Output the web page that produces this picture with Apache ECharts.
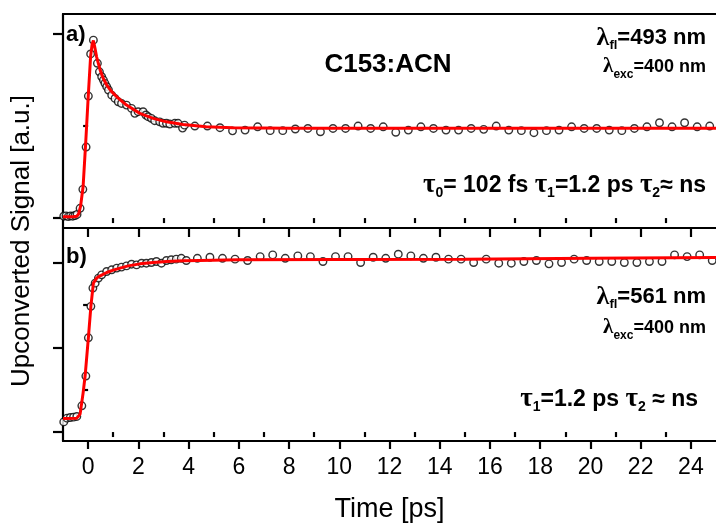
<!DOCTYPE html>
<html>
<head>
<meta charset="utf-8">
<script src="https://cdn.jsdelivr.net/npm/echarts@6/dist/echarts.min.js"></script>
<style>
html,body{margin:0;padding:0;background:#fff;}
#chart{width:716px;height:524px;}
</style>
</head>
<body>
<div id="chart"></div>
<script>
// Time axis (ps)
const timeMajorTicks = [0, 2, 4, 6, 8, 10, 12, 14, 16, 18, 20, 22, 24];
const timeMinorTicks = [1, 3, 5, 7, 9, 11, 13, 15, 17, 19, 21, 23];
const timeTickLabels = ['0', '2', '4', '6', '8', '10', '12', '14', '16', '18', '20', '22', '24'];

// Signal axis ticks for the two panels (no labels are shown)
const aMajorTicks = [0, 1];
const aMinorTicks = [0.5];
const bMajorTicks = [0, 0.5, 1];
const bMinorTicks = [0.25, 0.75];

// a) 493 nm fluorescence: measured points
const aTime = [-0.97, -0.88, -0.79, -0.70, -0.61, -0.52, -0.44, -0.32, -0.21, -0.08, 0.01, 0.10, 0.21,
  0.37, 0.45, 0.54, 0.61, 0.67, 0.74, 0.81, 0.94, 1.07, 1.20, 1.33, 1.53, 1.73, 1.86, 1.99, 2.19, 2.30,
  2.39, 2.52, 2.65, 2.85, 2.98, 3.12, 3.25, 3.45, 3.58, 3.76, 3.84,
  4.25, 4.75, 5.25, 5.75, 6.25, 6.75, 7.25, 7.75, 8.25, 8.75, 9.25, 9.75, 10.25, 10.75, 11.25, 11.75,
  12.25, 12.75, 13.25, 13.75, 14.25, 14.75, 15.25, 15.75, 16.25, 16.75, 17.25, 17.75, 18.25, 18.75,
  19.25, 19.75, 20.25, 20.75, 21.25, 21.75, 22.25, 22.75, 23.25, 23.75, 24.25, 24.75];
const aSignal = [0.010, 0.012, 0.008, 0.012, 0.010, 0.014, 0.020, 0.053, 0.156, 0.386, 0.663, 0.892, 0.967,
  0.841, 0.795, 0.768, 0.750, 0.732, 0.714, 0.696, 0.668, 0.650, 0.632, 0.623, 0.614, 0.596, 0.569, 0.578, 0.578, 0.560,
  0.551, 0.542, 0.529, 0.523, 0.515, 0.515, 0.511, 0.515, 0.515, 0.489, 0.505,
  0.500, 0.500, 0.491, 0.474, 0.478, 0.496, 0.475, 0.475, 0.484, 0.487, 0.469, 0.487, 0.487, 0.500, 0.487, 0.496,
  0.466, 0.478, 0.496, 0.487, 0.478, 0.478, 0.487, 0.482, 0.500, 0.478, 0.475, 0.464, 0.475, 0.478,
  0.496, 0.487, 0.487, 0.478, 0.475, 0.487, 0.496, 0.518, 0.496, 0.518, 0.496, 0.500];

// a) fitted curve
const aFitTime = [-1.0, -0.6, -0.45, -0.38, -0.30, -0.20, -0.10, 0.0, 0.10, 0.16, 0.21, 0.27, 0.34, 0.48, 0.60,
  0.74, 0.92, 1.14, 1.53, 2.06, 2.59, 3.12, 3.78, 4.70, 5.76, 8.0, 12.0, 18.0, 25.0];
const aFitSignal = [0.007, 0.007, 0.010, 0.022, 0.065, 0.170, 0.400, 0.650, 0.880, 0.945, 0.965, 0.925, 0.875, 0.804, 0.760,
  0.723, 0.690, 0.659, 0.614, 0.569, 0.542, 0.523, 0.509, 0.496, 0.491, 0.488, 0.4875, 0.4875, 0.4875];

// b) 561 nm fluorescence: measured points
const bTime = [-0.97, -0.84, -0.71, -0.58, -0.45, -0.25, -0.09, 0.01, 0.11, 0.19, 0.28,
  0.41, 0.54, 0.74, 0.94, 1.14, 1.33, 1.53, 1.73, 1.93, 2.13, 2.32, 2.52, 2.72, 2.92, 3.12, 3.31, 3.51, 3.71, 3.91,
  4.35, 4.85, 5.35, 5.85, 6.35, 6.85, 7.35, 7.85, 8.35, 8.85, 9.35, 9.85, 10.35, 10.85, 11.35, 11.85,
  12.35, 12.85, 13.35, 13.85, 14.35, 14.85, 15.35, 15.85, 16.35, 16.85, 17.35, 17.85, 18.35, 18.85,
  19.35, 19.85, 20.35, 20.85, 21.35, 21.85, 22.35, 22.85, 23.35, 23.85, 24.35, 24.85];
const bSignal = [0.060, 0.082, 0.086, 0.088, 0.092, 0.155, 0.331, 0.557, 0.743, 0.851, 0.880,
  0.910, 0.929, 0.949, 0.959, 0.969, 0.975, 0.982, 0.992, 0.988, 0.998, 0.998, 1.002, 1.008, 0.998, 1.014, 1.018, 1.022, 1.027, 1.014,
  1.027, 1.033, 1.027, 1.022, 1.014, 1.037, 1.047, 1.027, 1.041, 1.037, 1.008, 1.037, 1.037, 1.002, 1.033, 1.027,
  1.051, 1.041, 1.027, 1.033, 1.022, 1.022, 1.002, 1.022, 0.998, 0.998, 1.008, 1.014, 0.994, 1.002,
  1.022, 1.014, 1.008, 1.008, 1.002, 1.002, 1.008, 1.008, 1.047, 1.037, 1.047, 1.014];

// b) fitted curve
const bFitTime = [-1.0, -0.45, -0.32, -0.20, -0.12, 0.01, 0.11, 0.21, 0.34, 0.50, 0.74, 1.0, 1.27, 1.6, 2.06,
  2.6, 3.12, 3.8, 4.44, 6.0, 10.0, 15.0, 20.0, 25.0];
const bFitSignal = [0.080, 0.082, 0.106, 0.230, 0.331, 0.557, 0.743, 0.880, 0.910, 0.925, 0.943, 0.957, 0.969, 0.982, 0.994,
  1.002, 1.008, 1.012, 1.014, 1.018, 1.020, 1.022, 1.027, 1.032];

const zip = (xs, ys) => xs.map((x, i) => [x, ys[i]]);

const FONT = 'Liberation Sans';
const GREEK = 'Liberation Serif';
const AXIS_W = 2.2;

function xAxes(gridIndex, withLabels) {
  const base = {
    type: 'value', gridIndex, min: -1, max: 25, position: 'bottom',
    splitLine: { show: false }
  };
  return [
    Object.assign({}, base, {
      axisLine: { show: true, onZero: false, lineStyle: { color: '#000', width: AXIS_W } },
      axisTick: { show: true, inside: false, length: withLabels ? 8 : 9, customValues: timeMajorTicks,
        lineStyle: { color: '#000', width: AXIS_W } },
      axisLabel: withLabels ? {
        show: true, customValues: timeMajorTicks, margin: 15,
        fontFamily: FONT, fontSize: 23, color: '#000',
        formatter: v => timeTickLabels[timeMajorTicks.indexOf(v)]
      } : { show: false },
      name: withLabels ? 'Time [ps]' : '',
      nameLocation: 'middle', nameGap: 55,
      nameTextStyle: { fontFamily: FONT, fontSize: 27, color: '#000' }
    }),
    Object.assign({}, base, {
      axisLine: { show: false },
      axisTick: { show: true, inside: false, length: 5, customValues: timeMinorTicks,
        lineStyle: { color: '#000', width: AXIS_W } },
      axisLabel: { show: false }
    }),
    Object.assign({}, base, {
      position: 'top',
      axisLine: { show: true, onZero: false, lineStyle: { color: '#000', width: AXIS_W } },
      axisTick: { show: false }, axisLabel: { show: false }
    })
  ];
}

function yAxes(gridIndex, min, max, major, minor) {
  const base = { type: 'value', gridIndex, min, max, position: 'left', splitLine: { show: false } };
  return [
    Object.assign({}, base, {
      axisLine: { show: true, onZero: false, lineStyle: { color: '#000', width: AXIS_W } },
      axisTick: { show: true, inside: false, length: 10, customValues: major,
        lineStyle: { color: '#000', width: AXIS_W } },
      axisLabel: { show: false }
    }),
    Object.assign({}, base, {
      axisLine: { show: false },
      axisTick: { show: true, inside: false, length: 5, customValues: minor,
        lineStyle: { color: '#000', width: AXIS_W } },
      axisLabel: { show: false }
    })
  ];
}

// Rich-text annotation: parts are [kind, text] with kind g (greek), s (subscript), m (main)
function note(x, y, parts, sizes) {
  const rich = {
    g: { fontFamily: GREEK, fontWeight: 'bold', fontSize: sizes.g, lineHeight: sizes.g, verticalAlign: 'top',
         color: '#000', padding: [sizes.gPad || 0, 0, 0, 0] },
    s: { fontFamily: FONT, fontWeight: 'bold', fontSize: sizes.s, lineHeight: sizes.s + sizes.sPad,
         verticalAlign: 'top', padding: [sizes.sPad, 0, 0, 0], color: '#000' },
    m: { fontFamily: FONT, fontWeight: 'bold', fontSize: sizes.m, lineHeight: sizes.m, verticalAlign: 'top',
         padding: [sizes.mPad || 0, 0, 0, 0], color: '#000' }
  };
  return {
    type: 'text', x, y, z: 100,
    style: {
      text: parts.map(p => '{' + p[0] + '|' + p[1] + '}').join(''),
      rich, textAlign: 'right', textVerticalAlign: 'top'
    }
  };
}

const bigLam = { g: 26, s: 13, sPad: 14, m: 22, mPad: 2, gPad: 0 };
const smallLam = { g: 21, s: 12, sPad: 13, m: 18, mPad: 2, gPad: 0 };
const tauSize = { g: 27, s: 14, sPad: 14, m: 23, mPad: 2, gPad: 0 };

const chart = echarts.init(document.getElementById('chart'), null, { renderer: 'canvas' });
chart.setOption({
  animation: false,
  backgroundColor: '#fff',
  grid: [
    { left: 63, top: 14, width: 656, height: 214 },
    { left: 63, top: 228, width: 656, height: 214 }
  ],
  xAxis: [...xAxes(0, false), ...xAxes(1, true)],
  yAxis: [...yAxes(0, -0.054, 1.109, aMajorTicks, aMinorTicks), ...yAxes(1, -0.053, 1.206, bMajorTicks, bMinorTicks)],
  series: [
    { type: 'scatter', xAxisIndex: 0, yAxisIndex: 0, data: zip(aTime, aSignal), symbol: 'circle', symbolSize: 7.5,
      itemStyle: { color: '#fff', borderColor: '#000', borderWidth: 1.4 }, z: 2 },
    { type: 'line', xAxisIndex: 0, yAxisIndex: 0, data: zip(aFitTime, aFitSignal), showSymbol: false,
      lineStyle: { color: '#ff0000', width: 3 }, z: 3 },
    { type: 'scatter', xAxisIndex: 3, yAxisIndex: 2, data: zip(bTime, bSignal), symbol: 'circle', symbolSize: 7.5,
      itemStyle: { color: '#fff', borderColor: '#000', borderWidth: 1.4 }, z: 2 },
    { type: 'line', xAxisIndex: 3, yAxisIndex: 2, data: zip(bFitTime, bFitSignal), showSymbol: false,
      lineStyle: { color: '#ff0000', width: 3 }, z: 3 }
  ],
  graphic: [
    { type: 'text', x: 22, y: 241, rotation: Math.PI / 2, z: 100,
      style: { text: 'Upconverted Signal [a.u.]', fontFamily: FONT, fontSize: 26, fill: '#000',
        textAlign: 'center', textVerticalAlign: 'middle' } },
    { type: 'text', x: 66, y: 24, z: 100,
      style: { text: 'a)', fontFamily: FONT, fontWeight: 'bold', fontSize: 22, fill: '#000' } },
    { type: 'text', x: 66, y: 246, z: 100,
      style: { text: 'b)', fontFamily: FONT, fontWeight: 'bold', fontSize: 22, fill: '#000' } },
    { type: 'text', x: 388, y: 65, z: 100,
      style: { text: 'C153:ACN', fontFamily: FONT, fontWeight: 'bold', fontSize: 26, fill: '#000',
        textAlign: 'center', textVerticalAlign: 'middle' } },
    note(706, 25, [['g', 'λ'], ['s', 'fl'], ['m', '=493 nm']], bigLam),
    note(706, 56, [['g', 'λ'], ['s', 'exc'], ['m', '=400 nm']], smallLam),
    note(706, 172, [['g', 'τ'], ['s', '0'], ['m', '= 102 fs '], ['g', 'τ'], ['s', '1'], ['m', '=1.2 ps '],
      ['g', 'τ'], ['s', '2'], ['m', '≈ ns']], tauSize),
    note(706, 284, [['g', 'λ'], ['s', 'fl'], ['m', '=561 nm']], bigLam),
    note(706, 317, [['g', 'λ'], ['s', 'exc'], ['m', '=400 nm']], smallLam),
    note(698, 386, [['g', 'τ'], ['s', '1'], ['m', '=1.2 ps '], ['g', 'τ'], ['s', '2'], ['m', ' ≈ ns']], tauSize)
  ]
});
</script>
</body>
</html>
